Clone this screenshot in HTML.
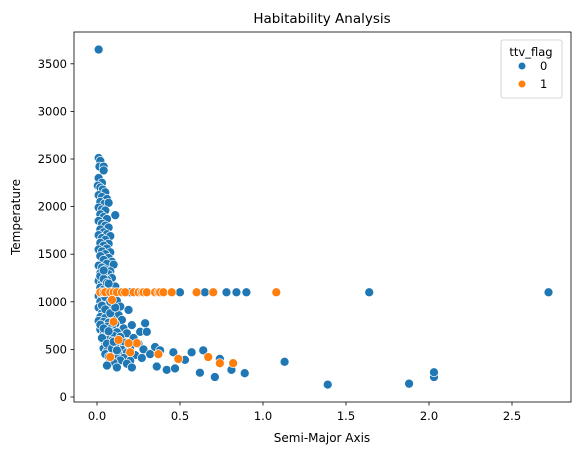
<!DOCTYPE html>
<html><head><meta charset="utf-8">
<style>
html,body{margin:0;padding:0;background:#fff;}
svg{display:block;font-family:"DejaVu Sans","Liberation Sans",sans-serif;}
</style></head>
<body>
<svg id="chart" width="580" height="455" viewBox="0 0 580 455" xmlns="http://www.w3.org/2000/svg">
<text x="322" y="23" text-anchor="middle" font-size="13.5" fill="#000">Habitability Analysis</text>
<g id="points"></g>
<rect x="74" y="32" width="497" height="370" fill="none" stroke="#000" stroke-width="0.8"/>
<g id="xticks"></g>
<g id="yticks"></g>
<text x="322" y="442" text-anchor="middle" font-size="12" fill="#000">Semi-Major Axis</text>
<text transform="translate(20,217) rotate(-90)" text-anchor="middle" font-size="12" fill="#000">Temperature</text>
<g>
<rect x="501" y="40" width="61" height="58" rx="2" fill="#fff" fill-opacity="0.8" stroke="#ccc" stroke-width="0.8"/>
<text x="531" y="56" text-anchor="middle" font-size="11.5" fill="#000">ttv_flag</text>
<circle cx="522" cy="66" r="3.5" fill="#1f77b4"/>
<text x="540" y="70" font-size="11.5" fill="#000">0</text>
<circle cx="522" cy="84" r="3.5" fill="#ff7f0e"/>
<text x="540" y="88" font-size="11.5" fill="#000">1</text>
</g>
</svg>
<script>
const blueAxis = [0.01,0.02,0.015,0.04,0.04,0.01,0.03,0.005,0.02,0.035,0.05,0.01,0.03,0.06,0.02,0.045,0.07,0.11,0.01,0.03,0.05,0.02,0.04,0.06,0.01,0.03,0.05,0.07,0.02,0.04,0.06,0.01,0.08,0.03,0.05,0.02,0.07,0.04,0.06,0.01,0.03,0.08,0.05,0.02,0.07,0.04,0.09,0.06,0.1,0.01,0.03,0.05,0.08,0.02,0.07,0.04,0.09,0.06,0.01,0.03,0.05,0.08,0.11,0.02,0.04,0.07,0.1,0.01,0.03,0.06,0.09,0.12,0.02,0.05,0.08,0.14,0.01,0.04,0.07,0.1,0.03,0.06,0.13,0.19,0.02,0.05,0.09,0.15,0.01,0.04,0.07,0.11,0.21,0.29,0.03,0.06,0.09,0.16,0.02,0.05,0.08,0.12,0.26,0.3,0.18,0.04,0.07,0.1,0.14,0.22,0.03,0.06,0.09,0.13,0.17,0.25,0.05,0.08,0.11,0.2,0.35,0.04,0.07,0.15,0.28,0.38,0.06,0.1,0.18,0.46,0.57,0.05,0.09,0.13,0.23,0.32,0.07,0.12,0.16,0.27,0.64,0.53,0.74,0.08,0.14,0.2,0.1,0.18,0.06,0.12,0.21,0.36,0.42,0.47,0.62,0.71,0.81,0.89,0.01,1.13,1.39,1.88,2.03,2.03,0.14,0.2,0.5,0.65,0.78,0.84,0.9,1.64,2.72,0.02,0.04,0.06,0.03,0.05,0.08,0.02,0.04,0.07,0.03,0.06,0.09,0.1,0.12,0.05,0.08,0.11,0.04,0.07];
const blueTemp = [2510,2480,2420,2420,2380,2300,2250,2220,2200,2180,2150,2120,2100,2080,2050,2030,2040,1910,1990,1970,1960,1920,1890,1870,1850,1820,1800,1780,1760,1730,1710,1700,1690,1670,1650,1620,1610,1590,1560,1550,1530,1520,1500,1480,1460,1440,1420,1400,1390,1380,1360,1340,1320,1300,1290,1270,1250,1230,1220,1200,1180,1170,1160,1150,1130,1120,1080,1060,1050,1040,1030,1010,1000,990,970,950,940,930,910,900,880,870,860,915,840,830,820,810,800,790,780,770,755,775,750,740,730,720,710,700,690,680,685,685,670,660,650,640,630,620,610,600,590,580,570,560,550,540,530,525,525,510,500,495,500,490,480,470,465,470,470,450,445,440,440,450,420,415,410,410,490,390,400,390,385,380,360,350,330,310,310,320,285,300,255,210,285,250,3650,370,130,140,210,260,1100,1100,1100,1100,1100,1100,1100,1100,1100,1270,1240,1200,960,920,880,760,720,690,620,560,510,580,490,1050,1000,940,1330,1190];
const orangeAxis = [0.02,0.04,0.05,0.08,0.1,0.12,0.15,0.17,0.22,0.25,0.27,0.28,0.3,0.35,0.37,0.38,0.4,0.45,0.6,0.7,1.08,0.09,0.1,0.2,0.08,0.37,0.49,0.67,0.74,0.82,0.13,0.24,0.19];
const orangeTemp = [1100,1100,1100,1100,1100,1100,1100,1100,1100,1100,1100,1100,1100,1100,1100,1100,1100,1100,1100,1100,1100,1020,790,470,420,450,400,420,355,355,600,565,565];
const xTicks = [0,0.5,1.0,1.5,2.0,2.5];
const xTickLabels = ["0.0","0.5","1.0","1.5","2.0","2.5"];
const yTicks = [0,500,1000,1500,2000,2500,3000,3500];

const NS = "http://www.w3.org/2000/svg";
function xScale(v){ return 97 + v * 166; }
function yScale(v){ return 397 - v * 0.0952; }

const pts = document.getElementById('points');
function drawSeries(xs, ys, color, name){
  for (let i = 0; i < xs.length; i++){
    const c = document.createElementNS(NS, 'circle');
    c.setAttribute('cx', xScale(xs[i]));
    c.setAttribute('cy', yScale(ys[i]));
    c.setAttribute('r', 4.5);
    c.setAttribute('fill', color);
    c.setAttribute('stroke', '#fff');
    c.setAttribute('stroke-width', 0.7);
    
    
    pts.appendChild(c);
  }
}
drawSeries(blueAxis, blueTemp, '#1f77b4', 'point-ttv-0');
drawSeries(orangeAxis, orangeTemp, '#ff7f0e', 'point-ttv-1');

const xg = document.getElementById('xticks');
xTicks.forEach((t, i) => {
  const x = xScale(t);
  const l = document.createElementNS(NS, 'line');
  l.setAttribute('x1', x); l.setAttribute('x2', x);
  l.setAttribute('y1', 402); l.setAttribute('y2', 405.5);
  l.setAttribute('stroke', '#000'); l.setAttribute('stroke-width', 0.8);
  
  
  xg.appendChild(l);
  const tx = document.createElementNS(NS, 'text');
  tx.setAttribute('x', x); tx.setAttribute('y', 420);
  tx.setAttribute('text-anchor', 'middle'); tx.setAttribute('font-size', '11.5');
  tx.textContent = xTickLabels[i];
  
  
  xg.appendChild(tx);
});
const yg = document.getElementById('yticks');
yTicks.forEach(t => {
  const y = yScale(t);
  const l = document.createElementNS(NS, 'line');
  l.setAttribute('x1', 70.5); l.setAttribute('x2', 74);
  l.setAttribute('y1', y); l.setAttribute('y2', y);
  l.setAttribute('stroke', '#000'); l.setAttribute('stroke-width', 0.8);
  
  
  yg.appendChild(l);
  const tx = document.createElementNS(NS, 'text');
  tx.setAttribute('x', 67); tx.setAttribute('y', y + 4);
  tx.setAttribute('text-anchor', 'end'); tx.setAttribute('font-size', '11.5');
  tx.textContent = String(t);
  
  
  yg.appendChild(tx);
});
</script>
</body></html>
